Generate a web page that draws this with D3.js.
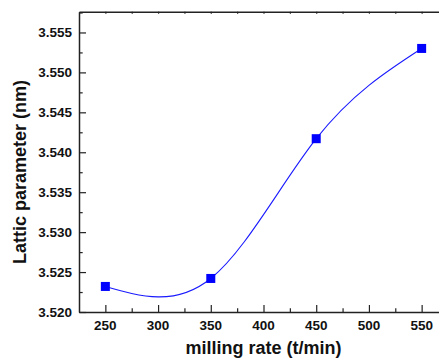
<!DOCTYPE html>
<html>
<head>
<meta charset="utf-8">
<script src="https://cdn.jsdelivr.net/npm/d3@7"></script>
<style>
  html, body { margin: 0; padding: 0; background: #fff; }
  svg { display: block; }
  text { font-family: "Liberation Sans", Arial, sans-serif; font-weight: bold; fill: #111; }
</style>
</head>
<body>
<svg id="chart" width="439" height="358"></svg>
<script>
const millingRate = [250, 350, 450, 550];
const latticeParam = [3.5232, 3.5242, 3.5417, 3.5530];
const xTicks = [250, 300, 350, 400, 450, 500, 550];
const yTicks = [3.520, 3.525, 3.530, 3.535, 3.540, 3.545, 3.550, 3.555];
const xTitle = "milling rate (t/min)";
const yTitle = "Lattic parameter (nm)";

(function () {
const svg = d3.select("#chart");
const mLeft = 79, mRight = 448, mTop = 11.7, mBottom = 312;

const x = d3.scaleLinear().domain([225, 575]).range([mLeft, mRight]);
const y = d3.scaleLinear().domain([3.520, 3.5576]).range([mBottom, mTop]);

const xMinor = d3.range(275, 575, 50);
const yMinor = d3.range(3.5225, 3.5576, 0.005);

// bottom axis
const gx = svg.append("g").attr("transform", `translate(0,${mBottom})`);
gx.call(d3.axisBottom(x).tickValues(xTicks).tickSizeInner(-7).tickSizeOuter(0).tickFormat(""));
gx.append("g").call(d3.axisBottom(x).tickValues(xMinor).tickSizeInner(-3.7).tickSizeOuter(0).tickFormat(""))
  .select(".domain").remove();
svg.append("g").selectAll("text").data(xTicks).join("text")
  .attr("x", d => x(d)).attr("y", 330).attr("text-anchor", "middle")
  .style("font-size", "13.5px").text(d => d);

// left axis
const gy = svg.append("g").attr("transform", `translate(${mLeft},0)`);
gy.call(d3.axisLeft(y).tickValues(yTicks).tickSizeInner(-7).tickSizeOuter(0).tickFormat(""));
gy.append("g").call(d3.axisLeft(y).tickValues(yMinor).tickSizeInner(-3.7).tickSizeOuter(0).tickFormat(""))
  .select(".domain").remove();
svg.append("g").selectAll("text").data(yTicks).join("text")
  .attr("x", 72).attr("y", d => y(d) + 4.8).attr("text-anchor", "end")
  .style("font-size", "13.5px").text(d => d3.format(".3f")(d));

// top axis
const gt = svg.append("g").attr("transform", `translate(0,${mTop})`);
gt.call(d3.axisTop(x).tickValues(xTicks.concat(xMinor)).tickSizeInner(-2).tickSizeOuter(0).tickFormat(""));

// right axis (outside the visible area)
const gr = svg.append("g").attr("transform", `translate(${mRight},0)`);
gr.call(d3.axisRight(y).tickValues([]).tickSizeOuter(0));

svg.selectAll(".domain").attr("stroke", "#222").attr("stroke-width", 1.5);
svg.selectAll(".tick line").attr("stroke", "#222").attr("stroke-width", 1.2);

// curve
const pts = millingRate.map((d, i) => [d, latticeParam[i]]);
svg.append("path")
  .datum(pts)
  .attr("fill", "none")
  .attr("stroke", "#1a1aff")
  .attr("stroke-width", 1.1)
  .attr("d", d3.line().x(d => x(d[0])).y(d => y(d[1])).curve(d3.curveNatural));

// markers
svg.append("g").selectAll("rect").data(pts).join("rect")
  .attr("x", d => x(d[0]) - 4.5).attr("y", d => y(d[1]) - 4.5)
  .attr("width", 9).attr("height", 9).attr("fill", "#0000ff");

// titles
svg.append("text").attr("x", (mLeft + mRight) / 2).attr("y", 353.5)
  .attr("text-anchor", "middle").style("font-size", "18px").text(xTitle);
svg.append("text").attr("transform", "translate(26,172) rotate(-90)")
  .attr("text-anchor", "middle").style("font-size", "18px").text(yTitle);
})();
</script>
</body>
</html>
